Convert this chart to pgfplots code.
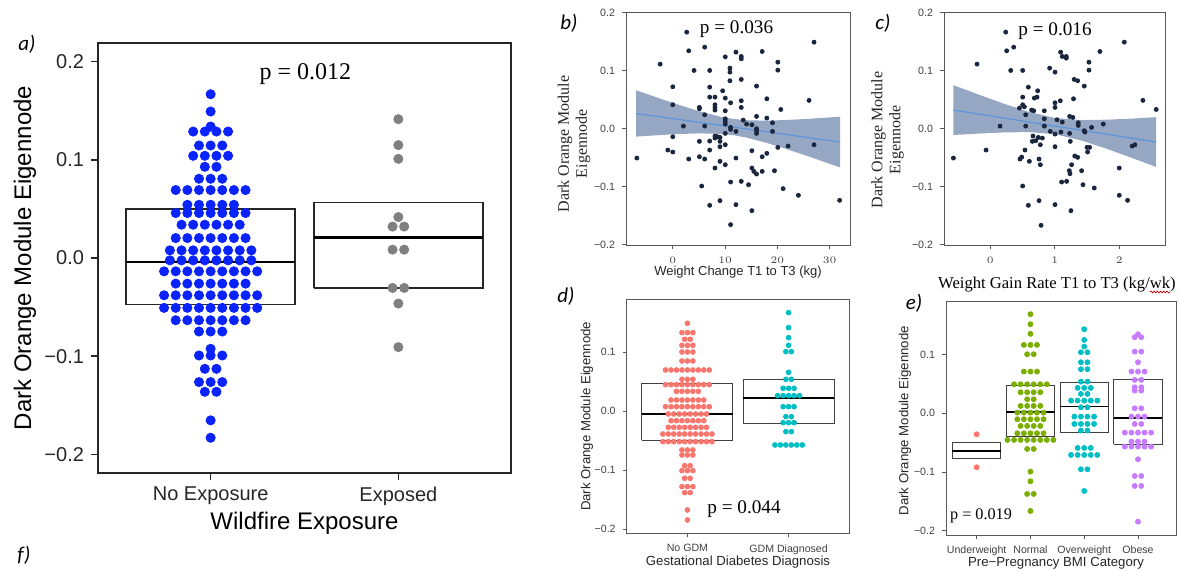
\documentclass[border=0pt]{standalone}
\usepackage{fontspec}
\setmainfont{Liberation Sans}
\newfontfamily\tnr{Liberation Serif}
\newfontfamily\calib{Carlito}
\usepackage{pgfplots}
\pgfplotsset{compat=1.18}
\usetikzlibrary{decorations.pathmorphing}

\definecolor{ablue}{RGB}{10,35,250}
\definecolor{agrey}{RGB}{128,128,128}
\definecolor{navy}{RGB}{25,38,62}
\definecolor{bandc}{RGB}{150,167,196}
\definecolor{fitc}{RGB}{90,150,220}
\definecolor{ggred}{HTML}{F8766D}
\definecolor{ggcyan}{HTML}{00BFC4}
\definecolor{gggreen}{HTML}{7CAE00}
\definecolor{ggpurple}{HTML}{C77CFF}

\pgfplotsset{
 panel/.style={scale only axis, anchor=south west, tick pos=left, tick align=outside,
   axis line style={black!65, line width=0.45pt}, tick style={black!65, line width=0.45pt},
   major tick length=2pt,
   tick label style={font=\fontsize{5.3}{6}\selectfont, text=black!75},
   label style={font=\fontsize{6.6}{8}\selectfont, text=black!85}},
 boxl/.style={black!75, line width=0.5pt, mark=none},
 medl/.style={black, line width=0.9pt, mark=none},
}

\begin{document}
\begin{tikzpicture}
\useasboundingbox (0,0) rectangle (590pt,285.5pt);

% ---------------- panel a ----------------
\begin{axis}[at={(49pt,49pt)}, anchor=south west, scale only axis, width=206.5pt, height=215pt,
 xmin=0.4, xmax=2.6, ymin=-0.219, ymax=0.219, tick pos=left, tick align=outside,
 xtick={1,2}, xticklabels={No Exposure,Exposed},
 ytick={-0.2,-0.1,0,0.1,0.2}, yticklabels={−0.2,−0.1,0.0,0.1,0.2},
 axis line style={black!85, line width=0.8pt}, tick style={black!85, line width=0.8pt},
 major tick length=3.5pt,
 tick label style={font=\fontsize{10}{12}\selectfont, text=black!85},
 xlabel={Wildfire Exposure}, ylabel={Dark Orange Module Eigennode},
 label style={font=\fontsize{12}{14}\selectfont},
 xlabel style={at={(axis description cs:0.5,-0.1163)}, anchor=center},
 ylabel style={at={(axis description cs:-0.177,0.5)}, anchor=center},
]
\addplot[only marks, mark=*, mark size=2.3pt, ablue] coordinates {
(1,0.1668)(1,0.1492)(1,0.1339)
(0.907,0.1288)(0.969,0.1288)(1.031,0.1288)(1.093,0.1288)
(0.938,0.1146)(1,0.1146)(1.062,0.1146)
(0.907,0.1041)(0.969,0.1041)(1.031,0.1041)(1.093,0.1041)
(0.969,0.0929)(1.031,0.0929)
(0.938,0.0807)(1,0.0807)(1.062,0.0807)
(0.814,0.0692)(0.876,0.0692)(0.938,0.0692)(1,0.0692)(1.062,0.0692)(1.124,0.0692)(1.186,0.0692)
(0.876,0.0542)(0.938,0.0542)(1,0.0542)(1.062,0.0542)(1.124,0.0542)
(0.814,0.0458)(0.876,0.0458)(0.938,0.0458)(1,0.0458)(1.062,0.0458)(1.124,0.0458)(1.186,0.0458)
(0.845,0.0339)(0.907,0.0339)(0.969,0.0339)(1.031,0.0339)(1.093,0.0339)(1.155,0.0339)
(0.814,0.0203)(0.876,0.0203)(0.938,0.0203)(1,0.0203)(1.062,0.0203)(1.124,0.0203)(1.186,0.0203)
(0.783,0.0078)(0.845,0.0078)(0.907,0.0078)(0.969,0.0078)(1.031,0.0078)(1.093,0.0078)(1.155,0.0078)(1.217,0.0078)
(0.783,-0.0024)(0.845,-0.0024)(0.907,-0.0024)(0.969,-0.0024)(1.031,-0.0024)(1.093,-0.0024)(1.155,-0.0024)(1.217,-0.0024)
(0.752,-0.0136)(0.814,-0.0136)(0.876,-0.0136)(0.938,-0.0136)(1,-0.0136)(1.062,-0.0136)(1.124,-0.0136)(1.186,-0.0136)(1.248,-0.0136)
(0.814,-0.0261)(0.876,-0.0261)(0.938,-0.0261)(1,-0.0261)(1.062,-0.0261)(1.124,-0.0261)(1.186,-0.0261)
(0.752,-0.038)(0.814,-0.038)(0.876,-0.038)(0.938,-0.038)(1,-0.038)(1.062,-0.038)(1.124,-0.038)(1.186,-0.038)(1.248,-0.038)
(0.752,-0.0508)(0.814,-0.0508)(0.876,-0.0508)(0.938,-0.0508)(1,-0.0508)(1.062,-0.0508)(1.124,-0.0508)(1.186,-0.0508)(1.248,-0.0508)
(0.814,-0.0634)(0.876,-0.0634)(0.938,-0.0634)(1,-0.0634)(1.062,-0.0634)(1.124,-0.0634)(1.186,-0.0634)
(0.938,-0.0749)(1,-0.0749)(1.062,-0.0749)
(1,-0.0925)
(0.938,-0.0993)(1,-0.0993)(1.062,-0.0993)
(0.969,-0.1129)(1.031,-0.1129)
(0.938,-0.1264)(1,-0.1264)(1.062,-0.1264)
(0.969,-0.1363)(1.031,-0.1363)
(1,-0.1654)(1,-0.1831)
};
\addplot[only marks, mark=*, mark size=2.3pt, agrey] coordinates {
(2,0.1414)(2,0.115)(2,0.101)(2,0.0417)(1.969,0.032)(2.031,0.032)
(1.969,0.0085)(2.031,0.0085)(1.969,-0.0305)(2.031,-0.0305)(2,-0.0464)(2,-0.0908)
};
\addplot[black!85, line width=0.7pt, mark=none] coordinates {(0.55,-0.0475)(1.45,-0.0475)(1.45,0.0498)(0.55,0.0498)(0.55,-0.0475)};
\addplot[black, line width=1.4pt, mark=none] coordinates {(0.55,-0.004)(1.45,-0.004)};
\addplot[black!85, line width=0.7pt, mark=none] coordinates {(1.55,-0.0305)(2.45,-0.0305)(2.45,0.0566)(1.55,0.0566)(1.55,-0.0305)};
\addplot[black, line width=1.4pt, mark=none] coordinates {(1.55,0.021)(2.45,0.021)};
\node[font=\tnr\fontsize{12}{14}\selectfont] at (axis cs:1.505,0.187) {p = 0.012};
\end{axis}

% ---------------- panel b ----------------
\begin{axis}[panel, at={(313pt,162.75pt)}, width=112pt, height=116.75pt,
 xmin=-8.95, xmax=33.9, ymin=-0.2015, ymax=0.2015,
 xtick={0,10,20,30}, ytick={-0.2,-0.1,0,0.1,0.2}, yticklabels={−0.2,−0.1,0.0,0.1,0.2},
 xlabel={Weight Change T1 to T3 (kg)},
 xlabel style={at={(axis description cs:0.5,-0.112)}, anchor=center, font=\fontsize{6.5}{8}\selectfont},
 ylabel={Dark Orange Module\\Eigennode},
 ylabel style={at={(axis description cs:-0.232,0.435)}, anchor=center, align=center, font=\tnr\fontsize{8}{9}\selectfont},
]
\addplot[fill=bandc, draw=none, mark=none] coordinates {
(-7,0.0664)(-3,0.0538)(1,0.0418)(5,0.0304)(9,0.021)(11.5,0.017)(14,0.0147)(18,0.0139)(22,0.0152)(26,0.0171)(32,0.0208)
(32,-0.0668)(26,-0.0479)(22,-0.0358)(18,-0.0245)(14,-0.0151)(11.5,-0.011)(9,-0.0088)(5,-0.008)(1,-0.0092)(-3,-0.0112)(-7,-0.0136)
};
\addplot[fitc, line width=0.6pt, mark=none] coordinates {(-7,0.0264)(32,-0.023)};
\addplot[only marks, mark=*, mark size=1pt, navy] coordinates {
(-6.87,-0.0506)(-2.42,0.1115)(-0.95,-0.0368)(0,-0.0402)(0,-0.0138)(0,0.0414)(0,0.0724)(2.03,0.0046)(2.67,0.1667)(3.05,0.1345)(3.05,-0.0523)(4.07,0.1006)(5.09,0.0368)(5.09,0.0345)(5.09,-0.0218)(5.09,-0.0483)(5.53,-0.0989)(6.1,0.1408)(6.1,0.0241)(6.1,0.0046)(6.1,-0.0523)(7.06,0.1006)(7.06,0.0718)(7.06,0.0546)(7.06,-0.0213)(7.06,-0.0368)(7.06,-0.1322)(8.07,0.0546)(8.07,0.0414)(8.07,0.0368)(8.07,0.0322)(8.07,-0.0126)(8.07,-0.0161)(8.07,-0.0678)(8.58,-0.0138)(9.03,-0.015)(9.03,-0.0218)(9.03,-0.031)(9.03,-0.0563)(9.03,-0.1241)(9.54,0.0655)(10.04,0.1241)(10.04,0.0529)(10.04,0.031)(10.04,0.0172)(10.04,0.0126)(10.04,0.008)(10.04,-0.008)(10.04,-0.0276)(10.04,-0.0621)(10.93,0.1046)(10.93,0.0977)(10.93,0.0828)(11.06,0.0448)(11.06,0.0023)(11.06,-0.0011)(11.06,-0.092)(11.06,-0.1655)(12.08,0.1322)(12.08,-0.0046)(12.08,-0.0506)(12.08,-0.131)(13.1,0.1247)(13.1,0.1207)(13.1,0.0851)(13.1,0.0483)(13.1,0.0368)(13.1,-0.0908)(13.48,0.0149)(14.11,0.008)(14.49,-0.0966)(15.13,0.0069)(15.13,-0.0379)(15.13,-0.0678)(15.13,-0.1414)(15.51,-0.0736)(16.02,0.0736)(16.02,0.0213)(16.02,0)(16.02,-0.0034)(16.02,-0.008)(16.02,-0.0782)(17.1,0.1333)(17.1,-0.0483)(17.1,-0.0736)(17.99,0.0517)(17.99,0.0184)(17.99,-0.0425)(19.07,0.0103)(19.07,-0.0046)(19.45,-0.0724)(20.09,0.1149)(20.09,0.1011)(20.09,-0.0322)(20.66,0.0333)(21.11,-0.1034)(22.06,-0.0299)(24.03,-0.1149)(26.06,0.0489)(27.02,0.1494)(27.02,-0.0276)(31.91,-0.1236)
};
\node[font=\tnr\fontsize{9.6}{11}\selectfont] at (axis cs:12.2,0.172) {p = 0.036};
\end{axis}

% ---------------- panel c ----------------
\begin{axis}[panel, at={(472pt,162.75pt)}, width=110.5pt, height=116.75pt,
 xmin=-0.72, xmax=2.71, ymin=-0.2015, ymax=0.2015,
 xtick={0,1,2}, ytick={-0.2,-0.1,0,0.1,0.2}, yticklabels={−0.2,−0.1,0.0,0.1,0.2},
 xlabel={Weight Gain Rate T1 to T3 (kg/wk)},
 xlabel style={at={(axis description cs:0.511,-0.169)}, anchor=center, font=\tnr\fontsize{8.3}{10}\selectfont, text=black},
 ylabel={Dark Orange Module\\Eigennode},
 ylabel style={at={(axis description cs:-0.256,0.452)}, anchor=center, align=center, font=\tnr\fontsize{8}{9}\selectfont},
]
\addplot[fill=bandc, draw=none, mark=none] coordinates {
(-0.574,0.0752)(-0.2,0.0596)(0.2,0.0436)(0.6,0.029)(1.0,0.0186)(1.4,0.015)(1.8,0.0156)(2.2,0.0175)(2.574,0.020)
(2.574,-0.066)(2.2,-0.0505)(1.8,-0.0344)(1.4,-0.0198)(1.0,-0.0094)(0.6,-0.0058)(0.2,-0.0064)(-0.2,-0.0084)(-0.574,-0.0108)
};
\addplot[fitc, line width=0.6pt, mark=none] coordinates {(-0.574,0.0322)(2.574,-0.023)};
\addplot[only marks, mark=*, mark size=1pt, navy] coordinates {
(-0.574,-0.0506)(-0.207,0.1115)(-0.067,-0.0368)(0.15,0.0046)(0.238,0.1667)(0.253,0.1345)(0.315,0.1006)(0.362,0.1408)(0.45,0.0356)(0.46,-0.0523)(0.486,-0.0489)(0.501,0.1006)(0.501,0.0546)(0.501,0.0414)(0.501,-0.0989)(0.527,0.0379)(0.537,-0.0368)(0.548,0.0241)(0.548,0.0046)(0.589,0.0718)(0.589,-0.1322)(0.605,-0.0563)(0.64,0.0322)(0.661,-0.0126)(0.672,0.031)(0.651,-0.0218)(0.682,0.0529)(0.703,-0.0207)(0.724,0.0546)(0.734,0.0655)(0.744,-0.015)(0.755,-0.0523)(0.755,-0.1241)(0.775,-0.0276)(0.775,-0.0621)(0.786,-0.1667)(0.806,-0.0161)(0.837,0.031)(0.837,0.0172)(0.837,0.0046)(0.92,0.1046)(0.93,-0.0046)(1.003,0.0977)(1.003,0.0448)(1.003,0.0368)(1.003,-0.0092)(1.003,-0.031)(1.003,-0.131)(1.034,0.0155)(1.085,0.0483)(1.09,0.1322)(1.096,-0.0057)(1.106,-0.092)(1.116,0.1247)(1.116,0.0115)(1.178,0.1247)(1.178,0.1218)(1.183,-0.0908)(1.23,-0.008)(1.23,0.0213)(1.24,-0.0218)(1.25,-0.1414)(1.225,-0.0724)(1.235,-0.0776)(1.26,-0.0621)(1.28,0.0195)(1.29,0.0517)(1.30,0.0851)(1.354,0.0828)(1.31,-0.0471)(1.354,-0.0494)(1.364,0.0103)(1.364,0.0057)(1.416,-0.0724)(1.437,-0.0966)(1.457,0.0736)(1.457,-0.0034)(1.468,-0.0057)(1.499,-0.0322)(1.509,-0.0402)(1.53,0.1149)(1.53,0.1011)(1.54,-0.0322)(1.571,0.0023)(1.612,-0.1023)(1.70,0.1333)(1.752,0.008)(2.0,-0.0678)(2.0,-0.1149)(2.078,0.1494)(2.129,-0.1236)(2.2,-0.0299)(2.243,-0.0276)(2.367,0.0489)(2.574,0.0333)
};
\node[font=\tnr\fontsize{9.6}{11}\selectfont] at (axis cs:1.003,0.168) {p = 0.016};
\end{axis}

% ---------------- panel d ----------------
\begin{axis}[panel, at={(313.35pt,18.85pt)}, width=111.3pt, height=117pt,
 xmin=0.4, xmax=2.6, ymin=-0.2073, ymax=0.1893,
 xtick={1,2}, xticklabels={No GDM,GDM Diagnosed},
 ytick={-0.2,-0.1,0,0.1}, yticklabels={−0.2,−0.1,0.0,0.1},
 xlabel={Gestational Diabetes Diagnosis},
 xlabel style={at={(axis description cs:0.5,-0.1226)}, anchor=center},
 ylabel={Dark Orange Module Eigennode},
 ylabel style={at={(axis description cs:-0.178,0.5)}, anchor=center},
]
\addplot[only marks, mark=*, mark size=1.2pt, ggred] coordinates {
(1,0.1486)
(0.946,0.1328)(1,0.1328)(1.054,0.1328)
(0.973,0.1215)(1.027,0.1215)
(0.946,0.1113)(1,0.1113)(1.054,0.1113)
(0.946,0.1)(1,0.1)(1.054,0.1)
(0.946,0.0847)(1,0.0847)(1.054,0.0847)
(0.784,0.0695)(0.838,0.0695)(0.892,0.0695)(0.946,0.0695)(1,0.0695)(1.054,0.0695)(1.108,0.0695)(1.162,0.0695)(1.216,0.0695)
(0.946,0.0537)(1,0.0537)(1.054,0.0537)
(0.784,0.0446)(0.838,0.0446)(0.892,0.0446)(0.946,0.0446)(1,0.0446)(1.054,0.0446)(1.108,0.0446)(1.162,0.0446)(1.216,0.0446)
(0.892,0.0333)(0.946,0.0333)(1,0.0333)(1.054,0.0333)(1.108,0.0333)
(0.838,0.0186)(0.892,0.0186)(0.946,0.0186)(1,0.0186)(1.054,0.0186)(1.108,0.0186)(1.162,0.0186)
(0.784,0.0073)(0.838,0.0073)(0.892,0.0073)(0.946,0.0073)(1,0.0073)(1.054,0.0073)(1.108,0.0073)(1.162,0.0073)(1.216,0.0073)
(0.811,-0.0051)(0.865,-0.0051)(0.919,-0.0051)(0.973,-0.0051)(1.027,-0.0051)(1.081,-0.0051)(1.135,-0.0051)(1.189,-0.0051)
(0.838,-0.0164)(0.892,-0.0164)(0.946,-0.0164)(1,-0.0164)(1.054,-0.0164)(1.108,-0.0164)(1.162,-0.0164)
(0.811,-0.0277)(0.865,-0.0277)(0.919,-0.0277)(0.973,-0.0277)(1.027,-0.0277)(1.081,-0.0277)(1.135,-0.0277)(1.189,-0.0277)
(0.757,-0.039)(0.811,-0.039)(0.865,-0.039)(0.919,-0.039)(0.973,-0.039)(1.027,-0.039)(1.081,-0.039)(1.135,-0.039)(1.189,-0.039)(1.243,-0.039)
(0.757,-0.052)(0.811,-0.052)(0.865,-0.052)(0.919,-0.052)(0.973,-0.052)(1.027,-0.052)(1.081,-0.052)(1.135,-0.052)(1.189,-0.052)(1.243,-0.052)
(0.946,-0.0661)(1,-0.0661)(1.054,-0.0661)
(0.946,-0.0746)(1,-0.0746)(1.054,-0.0746)
(0.973,-0.0927)(1.027,-0.0927)
(0.946,-0.1011)(1,-0.1011)(1.054,-0.1011)
(0.973,-0.1141)(1.027,-0.1141)
(0.946,-0.1282)(1,-0.1282)(1.054,-0.1282)
(0.973,-0.1384)(1.027,-0.1384)
(1,-0.1678)(1,-0.1847)
};
\addplot[only marks, mark=*, mark size=1.2pt, ggcyan] coordinates {
(2,0.1667)(2,0.1412)(2,0.1243)(2,0.1113)(1.973,0.1006)(2.027,0.1006)(2,0.0655)(1.973,0.0537)(2.027,0.0537)
(1.946,0.0384)(2,0.0384)(2.054,0.0384)(1.892,0.026)(1.946,0.026)(2,0.026)(2.054,0.026)(2.108,0.026)
(1.946,0.0073)(2,0.0073)(2.054,0.0073)(1.973,-0.0096)(2.027,-0.0096)(1.946,-0.0198)(2,-0.0198)(2.054,-0.0198)
(1.973,-0.035)(2.027,-0.035)(1.865,-0.0576)(1.919,-0.0576)(1.973,-0.0576)(2.027,-0.0576)(2.081,-0.0576)(2.135,-0.0576)
};
\addplot[boxl] coordinates {(0.55,-0.0492)(1.45,-0.0492)(1.45,0.0469)(0.55,0.0469)(0.55,-0.0492)};
\addplot[medl] coordinates {(0.55,-0.0056)(1.45,-0.0056)};
\addplot[boxl] coordinates {(1.55,-0.0209)(2.45,-0.0209)(2.45,0.0537)(1.55,0.0537)(1.55,-0.0209)};
\addplot[medl] coordinates {(1.55,0.0226)(2.45,0.0226)};
\node[font=\tnr\fontsize{9.6}{11}\selectfont] at (axis cs:1.56,-0.166) {p = 0.044};
\end{axis}

% ---------------- panel e ----------------
\begin{axis}[panel, at={(473pt,18pt)}, width=115.35pt, height=116.65pt,
 xmin=0.43, xmax=4.72, ymin=-0.2073, ymax=0.19,
 xtick={1,2,3,4}, xticklabels={Underweight,Normal,Overweight,Obese},
 ytick={-0.2,-0.1,0,0.1}, yticklabels={−0.2,−0.1,0.0,0.1},
 xlabel={Pre−Pregnancy BMI Category},
 xlabel style={at={(axis description cs:0.477,-0.12)}, anchor=center},
 ylabel={Dark Orange Module Eigennode},
 ylabel style={at={(axis description cs:-0.178,0.49)}, anchor=center},
]
\addplot[only marks, mark=*, mark size=1.25pt, ggred] coordinates {(1,-0.0358)(1,-0.092)};
\addplot[only marks, mark=*, mark size=1.25pt, gggreen] coordinates {
(2,0.1687)(2,0.1516)(2,0.1352)
(1.878,0.1164)(2,0.1164)(2.122,0.1164)
(1.939,0.1005)(2.061,0.1005)
(1.878,0.071)(2,0.071)(2.122,0.071)
(1.695,0.0494)(1.817,0.0494)(1.939,0.0494)(2.061,0.0494)(2.183,0.0494)(2.305,0.0494)
(1.817,0.0358)(1.939,0.0358)(2.061,0.0358)(2.183,0.0358)
(1.939,0.0239)(2.061,0.0239)
(1.817,0.0125)(1.939,0.0125)(2.061,0.0125)(2.183,0.0125)
(1.756,0.0011)(1.878,0.0011)(2,0.0011)(2.122,0.0011)(2.244,0.0011)
(1.756,-0.0102)(1.878,-0.0102)(2,-0.0102)(2.122,-0.0102)(2.244,-0.0102)
(1.817,-0.0216)(1.939,-0.0216)(2.061,-0.0216)(2.183,-0.0216)
(1.756,-0.0341)(1.878,-0.0341)(2,-0.0341)(2.122,-0.0341)(2.244,-0.0341)
(1.573,-0.0454)(1.695,-0.0454)(1.817,-0.0454)(1.939,-0.0454)(2.061,-0.0454)(2.183,-0.0454)(2.305,-0.0454)(2.427,-0.0454)
(1.939,-0.0608)(2.061,-0.0608)
(2,-0.0994)(2,-0.1158)(1.939,-0.1374)(2.061,-0.1374)(2,-0.1664)
};
\addplot[only marks, mark=*, mark size=1.25pt, ggcyan] coordinates {
(3,0.1431)(3,0.1249)(3,0.1136)(2.939,0.1039)(3.061,0.1039)(2.939,0.0869)(3.061,0.0869)(2.939,0.075)(3.061,0.075)
(2.939,0.0539)(3.061,0.0539)(2.878,0.0432)(3,0.0432)(3.122,0.0432)(2.939,0.0329)(3.061,0.0329)
(2.756,0.0216)(2.878,0.0216)(3,0.0216)(3.122,0.0216)(3.244,0.0216)(2.939,0.0102)(3.061,0.0102)
(2.817,-0.0057)(2.939,-0.0057)(3.061,-0.0057)(3.183,-0.0057)(2.817,-0.0182)(2.939,-0.0182)(3.061,-0.0182)(3.183,-0.0182)
(2.939,-0.0295)(3.061,-0.0295)(2.878,-0.0591)(3,-0.0591)(3.122,-0.0591)
(2.756,-0.071)(2.878,-0.071)(3,-0.071)(3.122,-0.071)(3.244,-0.071)(2.939,-0.0954)(3.061,-0.0954)(3,-0.1323)
};
\addplot[only marks, mark=*, mark size=1.25pt, ggpurple] coordinates {
(4,0.1346)(3.939,0.1295)(4.061,0.1295)(3.939,0.105)(4.061,0.105)(4,0.0869)(3.878,0.071)(4,0.071)(4.122,0.071)
(3.939,0.0568)(4.061,0.0568)(3.939,0.0443)(4.061,0.0443)(3.939,0.0386)(4.061,0.0386)(3.939,0.0085)(4.061,0.0085)
(3.878,-0.0057)(4,-0.0057)(4.122,-0.0057)(3.939,-0.0182)(4.061,-0.0182)
(3.756,-0.0329)(3.878,-0.0329)(4,-0.0329)(4.122,-0.0329)(4.244,-0.0329)(3.878,-0.0483)(4,-0.0483)(4.122,-0.0483)
(3.756,-0.0568)(3.878,-0.0568)(4,-0.0568)(4.122,-0.0568)(4.244,-0.0568)(4,-0.0784)
(3.939,-0.1068)(4.061,-0.1068)(3.939,-0.1238)(4.061,-0.1238)(4,-0.1846)
};
\addplot[boxl] coordinates {(0.55,-0.0778)(1.45,-0.0778)(1.45,-0.0494)(0.55,-0.0494)(0.55,-0.0778)};
\addplot[medl] coordinates {(0.55,-0.0636)(1.45,-0.0636)};
\addplot[boxl] coordinates {(1.55,-0.0398)(2.45,-0.0398)(2.45,0.0466)(1.55,0.0466)(1.55,-0.0398)};
\addplot[medl] coordinates {(1.55,0.0028)(2.45,0.0028)};
\addplot[boxl] coordinates {(2.55,-0.0324)(3.45,-0.0324)(3.45,0.0523)(2.55,0.0523)(2.55,-0.0324)};
\addplot[medl] coordinates {(2.55,0.0114)(3.45,0.0114)};
\addplot[boxl] coordinates {(3.55,-0.0528)(4.45,-0.0528)(4.45,0.0568)(3.55,0.0568)(3.55,-0.0528)};
\addplot[medl] coordinates {(3.55,-0.0085)(4.45,-0.0085)};
\node[font=\tnr\fontsize{8.1}{10}\selectfont, anchor=west, inner sep=0pt] at (axis cs:0.5,-0.175) {p = 0.019};
\end{axis}

% panel letters
\begin{scope}[every node/.style={font=\calib\itshape\fontsize{10.5}{12}\selectfont}]
\node at (13.5pt,263.5pt) {a)};
\node at (284.5pt,274pt) {b)};
\node at (441.5pt,274pt) {c)};
\node at (283pt,137.5pt) {d)};
\node at (457pt,134pt) {e)};
\node at (12pt,8pt) {f)};
\end{scope}
\draw[red!80!black, line width=0.35pt, decorate, decoration={snake, amplitude=0.45pt, segment length=1.6pt}] (575pt,139.5pt) -- (585pt,139.5pt);
\end{tikzpicture}
\end{document}
